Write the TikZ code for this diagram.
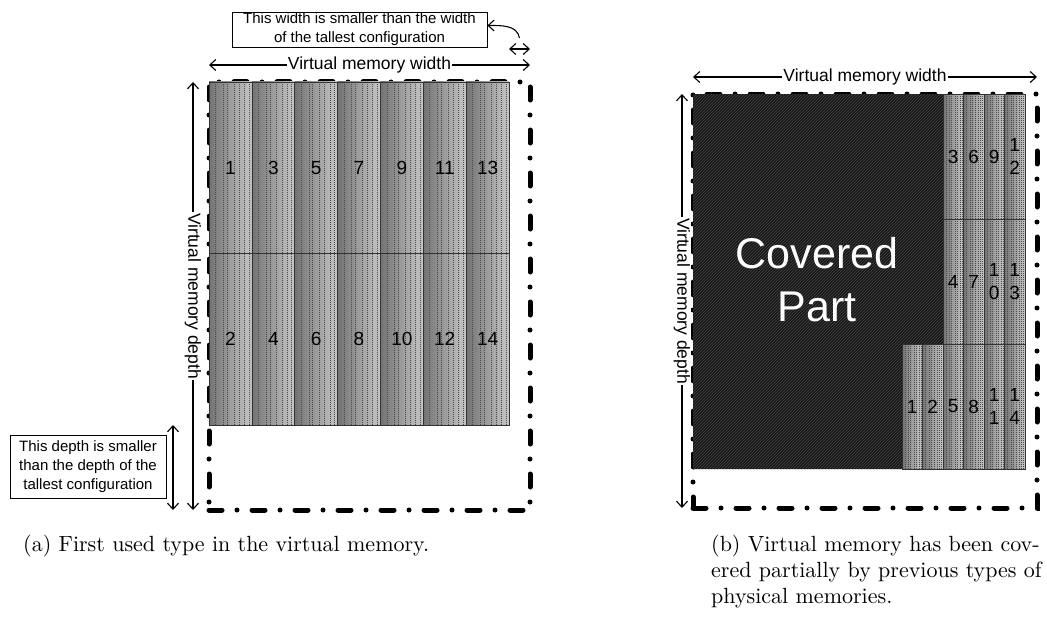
\documentclass[tikz,border=0pt]{standalone}
\usepackage{fontspec}
\newfontfamily\arialfont{Liberation Sans}
\usetikzlibrary{calc}
\usetikzlibrary{arrows.meta}
\usetikzlibrary{patterns}
\tikzset{>={Straight Barb[length=6pt,width=11pt]},
  vmframe/.style = {draw=black, line width=5pt, line cap=round,
    dash pattern=on 13pt off 15pt on 0pt off 15pt, inner sep=0pt, outer sep=0pt},
  memcell/.style = {draw=black!80, line width=0.7pt, left color=black!55, right color=black!22,
    anchor=north west, inner sep=0pt, outer sep=0pt, align=center,
    font=\arialfont\fontsize{19}{23}\selectfont,
    path picture={\foreach \f in {0.15,0.33,0.42,0.58,0.7,0.82,0.93}
      \draw[black!70, line width=0.6pt, dash pattern=on 1pt off 1pt]
        ($(path picture bounding box.north west)!\f!(path picture bounding box.north east)$) --
        ($(path picture bounding box.south west)!\f!(path picture bounding box.south east)$);}},
  dimline/.style = {line width=1.1pt},
  dimtext/.style = {fill=white, inner sep=1pt, font=\arialfont\fontsize{17.5}{21}\selectfont},
  note/.style = {draw, line width=0.8pt, align=center, inner xsep=4pt, inner ysep=1pt,
    font=\arialfont\fontsize{15}{19}\selectfont},
  covered/.style = {fill=black!91, postaction={pattern=north east lines, pattern color=black!72}},
  coverlabel/.style = {text=white, align=center, font=\arialfont\fontsize{43}{53}\selectfont},
  caption/.style = {inner sep=0pt, anchor=base west}
}

\begin{document}
\begin{tikzpicture}[x=1pt,y=-1pt]
  \useasboundingbox (0,0) rectangle (1047,626);
  \def\colw{42.86}
  \def\rowh{171.5}
  \def\cellw{20.5}

  \node[vmframe, minimum width=321, minimum height=428] (vmA) at (369.5,296) {};
  \foreach \i in {1,...,7}{
    \pgfmathtruncatemacro\ta{2*\i-1}
    \pgfmathtruncatemacro\tb{2*\i}
    \node[memcell, minimum width=\colw, minimum height=\rowh] (a\ta) at ({209+(\i-1)*\colw},82) {\ta};
    \node[memcell, minimum width=\colw, minimum height=\rowh] (a\tb) at ({209+(\i-1)*\colw},253.5) {\tb};
  }

  \draw[dimline,<->] ([yshift=17]vmA.north west) -- ([yshift=17]vmA.north east)
    node[dimtext, midway] {Virtual memory width};
  \draw[dimline,<->] ([yshift=33]a13.north east) -- ([yshift=33]vmA.north east) coordinate[midway] (gw);
  \node[note, minimum width=255, minimum height=35] (noteW) at (359.5,29.5)
    {This width is smaller than the width\\of the tallest configuration};
  \draw[dimline,->] ([yshift=11]gw) to[out=100,in=0] ([yshift=4]noteW.east);

  \draw[dimline,<->] ([xshift=-16]vmA.north west) -- ([xshift=-16]vmA.south west)
    node[dimtext, midway, rotate=-90] {Virtual memory depth};
  \draw[dimline,<->] ([xshift=-36]a2.south west) -- ([xshift=-36]vmA.south west);
  \node[note, minimum width=156, minimum height=63] (noteD) at (88,466.5)
    {This depth is smaller\\than the depth of the\\tallest configuration};

  \node[vmframe, minimum width=344, minimum height=414] (vmB) at (865,301) {};
  \foreach \lab [count=\i] in {3,6,9,1\\2}
    \node[memcell, minimum width=\cellw, minimum height=125] (bu\i) at ({943+(\i-1)*\cellw},94) {\lab};
  \foreach \lab [count=\i] in {4,7,1\\0,1\\3}
    \node[memcell, minimum width=\cellw, minimum height=125] (bm\i) at ({943+(\i-1)*\cellw},219) {\lab};
  \foreach \lab [count=\i] in {1,2,5,8,1\\1,1\\4}
    \node[memcell, minimum width=\cellw, minimum height=125] (bl\i) at ({902+(\i-1)*\cellw},344) {\lab};
  \path[covered] (vmB.north west) -- (bu1.north west) -- (bm1.south west) -- (bl1.north west)
    -- (bl1.south west) -- (vmB.west |- bl1.south west) -- cycle;
  \node[coverlabel] (cov) at (817,280) {Covered\\Part};

  \draw[dimline,<->] ([yshift=17]vmB.north west) -- ([yshift=17]vmB.north east)
    node[dimtext, midway] {Virtual memory width};
  \draw[dimline,<->] ([xshift=-11]vmB.north west) -- ([xshift=-11]vmB.south west)
    node[dimtext, midway, rotate=-90] {Virtual memory depth};

  \node[caption] (capA) at (23,551) {\scalebox{2.2}{(a) First used type in the virtual memory.}};
  \node[caption] (capB) at (711,551) {\scalebox{2.2}{\begin{tabular}[t]{@{}l@{}}(b) Virtual memory has been cov-\\
    ered partially by previous types of\\physical memories.\end{tabular}}};
\end{tikzpicture}
\end{document}
